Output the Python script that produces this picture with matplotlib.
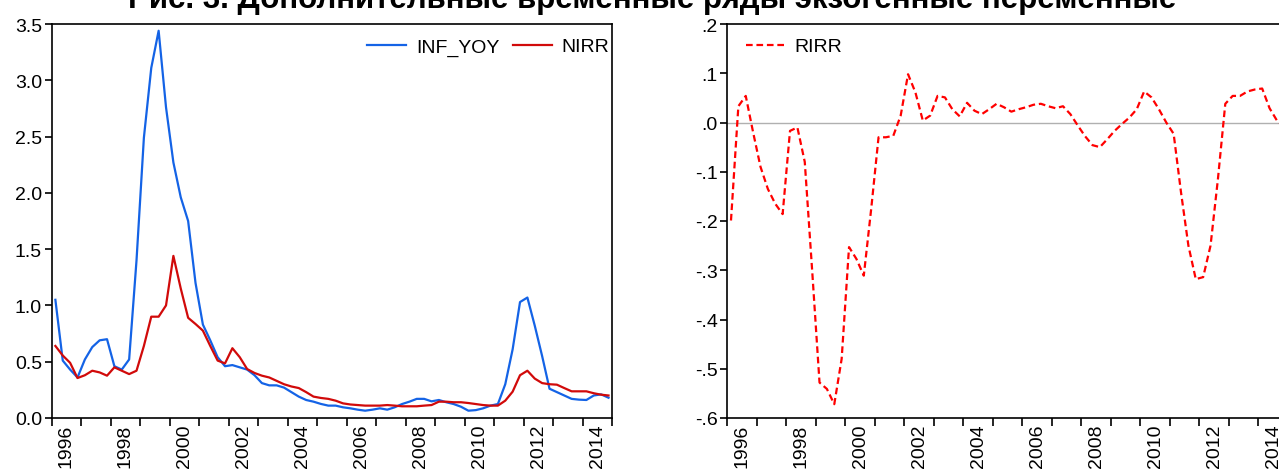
import matplotlib
matplotlib.use("Agg")
import matplotlib.pyplot as plt
import numpy as np
import pandas as pd

plt.rcParams['font.family'] = ['Liberation Sans', 'DejaVu Sans']

# Quarterly data 1996Q1 - 2014Q4
quarters = pd.period_range('1996Q1', '2014Q4', freq='Q')

inf_yoy = [1.05, 0.51, 0.43, 0.36, 0.52, 0.63, 0.69, 0.70,
           0.46, 0.43, 0.52, 1.40, 2.49, 3.11, 3.44, 2.76,
           2.27, 1.96, 1.75, 1.20, 0.83, 0.69, 0.54, 0.46,
           0.47, 0.45, 0.43, 0.38, 0.31, 0.29, 0.29, 0.27,
           0.23, 0.19, 0.16, 0.145, 0.125, 0.11, 0.11, 0.095,
           0.086, 0.074, 0.065, 0.074, 0.086, 0.074, 0.095, 0.124,
           0.145, 0.17, 0.17, 0.148, 0.16, 0.14, 0.124, 0.10,
           0.065, 0.07, 0.086, 0.11, 0.124, 0.30, 0.61, 1.03,
           1.07, 0.82, 0.55, 0.26, 0.23, 0.20, 0.17, 0.163,
           0.16, 0.20, 0.21, 0.18]

nirr = [0.64, 0.555, 0.49, 0.355, 0.38, 0.42, 0.405, 0.376,
        0.45, 0.42, 0.39, 0.42, 0.64, 0.90, 0.90, 1.00,
        1.44, 1.15, 0.89, 0.835, 0.776, 0.64, 0.51, 0.485,
        0.62, 0.54, 0.435, 0.40, 0.376, 0.36, 0.33, 0.30,
        0.28, 0.266, 0.23, 0.19, 0.178, 0.17, 0.154, 0.13,
        0.12, 0.115, 0.11, 0.11, 0.11, 0.115, 0.11, 0.104,
        0.104, 0.104, 0.11, 0.115, 0.145, 0.145, 0.14, 0.14,
        0.133, 0.124, 0.115, 0.11, 0.11, 0.154, 0.234, 0.38,
        0.42, 0.35, 0.31, 0.30, 0.296, 0.266, 0.237, 0.237,
        0.237, 0.22, 0.207, 0.20]

rirr = [-0.199, 0.033, 0.054, -0.02, -0.09, -0.135, -0.165, -0.186,
        -0.017, -0.01, -0.08, -0.30, -0.528, -0.541, -0.572, -0.48,
        -0.253, -0.277, -0.311, -0.176, -0.03, -0.03, -0.027, 0.014,
        0.098, 0.061, 0.004, 0.014, 0.054, 0.051, 0.027, 0.0125,
        0.04, 0.024, 0.017, 0.027, 0.038, 0.031, 0.022, 0.027,
        0.031, 0.036, 0.038, 0.033, 0.029, 0.033, 0.017, -0.006,
        -0.028, -0.046, -0.05, -0.034, -0.017, -0.003, 0.01, 0.027,
        0.063, 0.051, 0.027, 0.0, -0.023, -0.142, -0.25, -0.318,
        -0.314, -0.25, -0.115, 0.038, 0.054, 0.054, 0.063, 0.067,
        0.069, 0.029, 0.004, -0.01]

left_yticks = [0.0, 0.5, 1.0, 1.5, 2.0, 2.5, 3.0, 3.5]
left_ytick_labels = ['0.0', '0.5', '1.0', '1.5', '2.0', '2.5', '3.0', '3.5']
right_yticks = [-0.6, -0.5, -0.4, -0.3, -0.2, -0.1, 0.0, 0.1, 0.2]
right_ytick_labels = ['-.6', '-.5', '-.4', '-.3', '-.2', '-.1', '.0', '.1', '.2']
year_ticks = list(range(1996, 2016))
year_labels = [str(y) for y in range(1996, 2015, 2)]

title = 'Рис. 3. Дополнительные временные ряды экзогенные переменные'

x = np.array([q.year + (q.quarter - 0.5) / 4.0 for q in quarters])

W, H = 1279, 477
fig = plt.figure(figsize=(W / 100, H / 100), dpi=100)

def px_axes(x0, x1, ytop, ybot):
    return fig.add_axes([x0 / W, (H - ybot) / H, (x1 - x0) / W, (ybot - ytop) / H])

ax1 = px_axes(51.7, 612.2, 25, 419)
ax2 = px_axes(727.3, 1288, 25, 419)

BLUE = '#1463E6'
DRED = '#D10A0A'
RED = '#FF0000'
FS = 14

def style(ax):
    for s in ax.spines.values():
        s.set_linewidth(1.2)
        s.set_color('black')
    ax.set_xlim(1996, 2015)
    ax.set_xticks(year_ticks)
    ax.set_xticklabels([''] * len(year_ticks))
    ax.set_xticks([int(l) + 0.5 for l in year_labels], minor=True)
    ax.set_xticklabels(year_labels, minor=True, rotation=90, fontsize=FS)
    ax.tick_params(axis='x', which='major', direction='out', length=6, width=1.2)
    ax.tick_params(axis='x', which='minor', length=0, pad=4)
    ax.tick_params(axis='y', direction='out', length=5, width=1.2, labelsize=FS, pad=2)

ax1.plot(x, inf_yoy, color=BLUE, lw=1.6, label='INF_YOY')
ax1.plot(x, nirr, color=DRED, lw=1.6, label='NIRR')
style(ax1)
ax1.set_ylim(0, 3.5)
ax1.set_yticks(left_yticks)
ax1.set_yticklabels(left_ytick_labels)
ax1.legend(loc='upper right', ncol=2, frameon=False, fontsize=FS,
           handlelength=2.0, handletextpad=0.5, columnspacing=0.7,
           borderaxespad=0.0, borderpad=0.3, bbox_to_anchor=(1.005, 0.98))

ax2.axhline(0, color='#b0b0b0', lw=1.0, zorder=1)
ax2.plot(x, rirr, color=RED, lw=1.6, ls=(0, (3, 1.7)), label='RIRR', zorder=2)
style(ax2)
ax2.set_ylim(-0.6, 0.2)
ax2.set_yticks(right_yticks)
ax2.set_yticklabels(right_ytick_labels)
ax2.legend(loc='upper left', frameon=False, fontsize=FS,
           handlelength=2.0, handletextpad=0.5, borderaxespad=0.0,
           borderpad=0.3, bbox_to_anchor=(0.0232, 0.98))

fig.text(652 / W, (H - 8) / H, title, ha='center', va='baseline',
         fontsize=22.5, fontweight='bold')

fig.savefig('out.png', dpi=100)
